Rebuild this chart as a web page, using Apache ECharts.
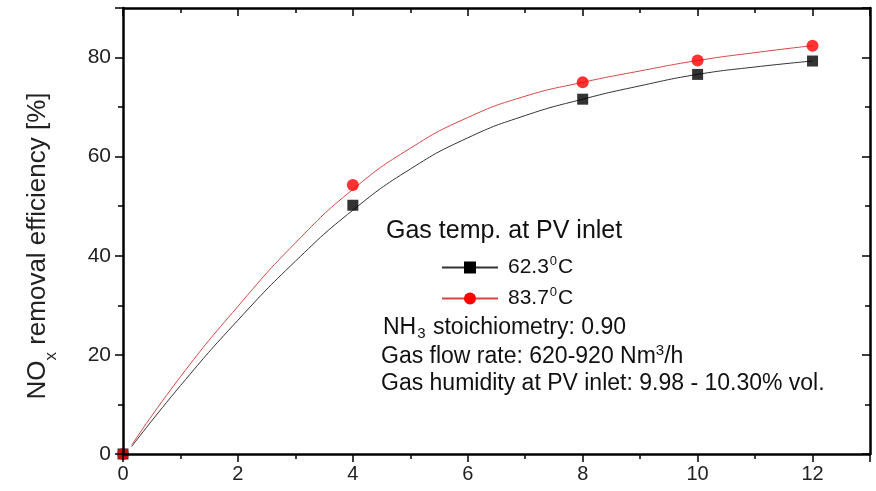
<!DOCTYPE html>
<html>
<head>
<meta charset="utf-8">
<script src="https://cdn.jsdelivr.net/npm/echarts@6/dist/echarts.min.js"></script>
<style>
  html, body { margin: 0; padding: 0; background: #fff; }
  #main { width: 876px; height: 491px; }
</style>
</head>
<body>
<div id="main"></div>
<script>
// measured points
var xMeasured = [0, 4, 8, 10, 12];
var temp62 = [0, 50.2, 71.6, 76.6, 79.3];
var temp84 = [0, 54.3, 75.0, 79.4, 82.4];

// fitted curves
var xFit = [0.15, 1, 2, 3, 4, 5, 6, 7, 8, 9, 10, 11, 12];
var fit62 = [1.5, 13.8, 27.0, 38.9, 49.2, 57.5, 63.8, 68.3, 71.6, 74.3, 76.6, 78.1, 79.3];
var fit84 = [1.8, 15.6, 29.8, 42.6, 53.4, 61.7, 67.9, 72.2, 75.0, 77.3, 79.4, 81.0, 82.4];

var xTicks = [0, 13, 2];   // min, max, interval
var yTicks = [0, 90, 20];

function pairs(xs, ys) {
  return xs.map(function (x, i) { return [x, ys[i]]; });
}

var font = 'Arial, "Liberation Sans", sans-serif';
var chart = echarts.init(document.getElementById('main'));

var tickStyle = { color: '#000', width: 1.5 };
var frameLine = { onZero: false, lineStyle: { color: '#000', width: 2.5 } };

var option = {
  animation: false,
  grid: { left: 123, right: 6, top: 8, bottom: 37 },
  xAxis: [
    {
      type: 'value', min: xTicks[0], max: xTicks[1], interval: xTicks[2], z: 10,
      axisLine: frameLine, splitLine: { show: false },
      axisTick: { length: 8, lineStyle: tickStyle },
      minorTick: { show: true, splitNumber: 2, length: 5, lineStyle: tickStyle },
      axisLabel: { color: '#222', fontSize: 20, fontFamily: font, margin: 10, showMaxLabel: false }
    },
    {
      type: 'value', position: 'top', min: xTicks[0], max: xTicks[1], interval: xTicks[2], z: 10,
      axisLine: frameLine, splitLine: { show: false },
      axisTick: { inside: true, length: 8, lineStyle: tickStyle },
      minorTick: { show: true, splitNumber: 2, length: 5, lineStyle: tickStyle },
      axisLabel: { show: false }
    }
  ],
  yAxis: [
    {
      type: 'value', min: yTicks[0], max: yTicks[1], interval: yTicks[2], z: 10,
      axisLine: frameLine, splitLine: { show: false },
      axisTick: { length: 8, lineStyle: tickStyle },
      minorTick: { show: true, splitNumber: 2, length: 5, lineStyle: tickStyle },
      axisLabel: { color: '#222', fontSize: 21, fontFamily: font, margin: 12, showMaxLabel: false },
      name: '{a|NO}{s|x}{a| removal efficiency [%]}',
      nameLocation: 'middle',
      nameGap: 72,
      nameTextStyle: {
        padding: [0, 30, 0, 0],
        rich: {
          a: { fontSize: 26, fontFamily: font, color: '#222' },
          s: { fontSize: 17, fontFamily: font, color: '#222', verticalAlign: 'bottom', padding: [0, 0, -9, 0] }
        }
      }
    },
    {
      type: 'value', position: 'right', min: yTicks[0], max: yTicks[1], interval: yTicks[2], z: 10,
      axisLine: frameLine, splitLine: { show: false },
      axisTick: { inside: true, length: 8, lineStyle: tickStyle },
      minorTick: { show: true, splitNumber: 2, length: 5, lineStyle: tickStyle },
      axisLabel: { show: false }
    }
  ],
  legend: {
    left: 441, top: 255, padding: 0, orient: 'vertical', itemGap: 8,
    itemWidth: 56, itemHeight: 15,
    data: ['62.3', '83.7'],
    formatter: function (name) { return '{a|' + name + '}{s|0}{a|C}'; },
    textStyle: {
      padding: [0, 0, 0, 5],
      rich: {
        a: { fontSize: 21, fontFamily: font, color: '#111' },
        s: { fontSize: 13, fontFamily: font, color: '#111', verticalAlign: 'top', padding: [0, 1, 12, 1] }
      }
    }
  },
  graphic: [
    { type: 'text', left: 386, top: 219, style: { text: 'Gas temp. at PV inlet', font: '25px ' + font, fill: '#111' } },
    { type: 'text', left: 383, top: 316, style: {
        text: '{a|NH}{s|3}{a| stoichiometry: 0.90}',
        rich: {
          a: { font: '23px ' + font, fill: '#111' },
          s: { font: '15px ' + font, fill: '#111', padding: [12, 1, 0, 1] }
        } } },
    { type: 'text', left: 381, top: 343, style: {
        text: '{a|Gas flow rate: 620-920 Nm}{s|3}{a|/h}',
        rich: {
          a: { font: '23px ' + font, fill: '#111' },
          s: { font: '15px ' + font, fill: '#111', padding: [0, 0, 12, 0] }
        } } },
    { type: 'text', left: 381, top: 372, style: { text: 'Gas humidity at PV inlet: 9.98 - 10.30% vol.', font: '23px ' + font, fill: '#111' } }
  ],
  series: [
    {
      name: '62.3', type: 'line', smooth: 0.5, data: pairs(xFit, fit62),
      showSymbol: false, symbol: 'rect', symbolSize: 10,
      itemStyle: { color: '#000' },
      lineStyle: { color: '#333', width: 1 }, z: 2
    },
    {
      name: '83.7', type: 'line', smooth: 0.5, data: pairs(xFit, fit84),
      showSymbol: false, symbol: 'circle', symbolSize: 12,
      itemStyle: { color: '#f00' },
      lineStyle: { color: '#d64545', width: 1 }, z: 2
    },
    {
      name: '62.3', type: 'scatter', symbol: 'rect', symbolSize: 11,
      data: pairs(xMeasured, temp62), itemStyle: { color: '#000' }, z: 3
    },
    {
      name: '83.7', type: 'scatter', symbol: 'circle', symbolSize: 12,
      data: pairs(xMeasured, temp84), itemStyle: { color: '#f00' }, z: 4
    }
  ]
};

chart.setOption(option);
</script>
</body>
</html>
